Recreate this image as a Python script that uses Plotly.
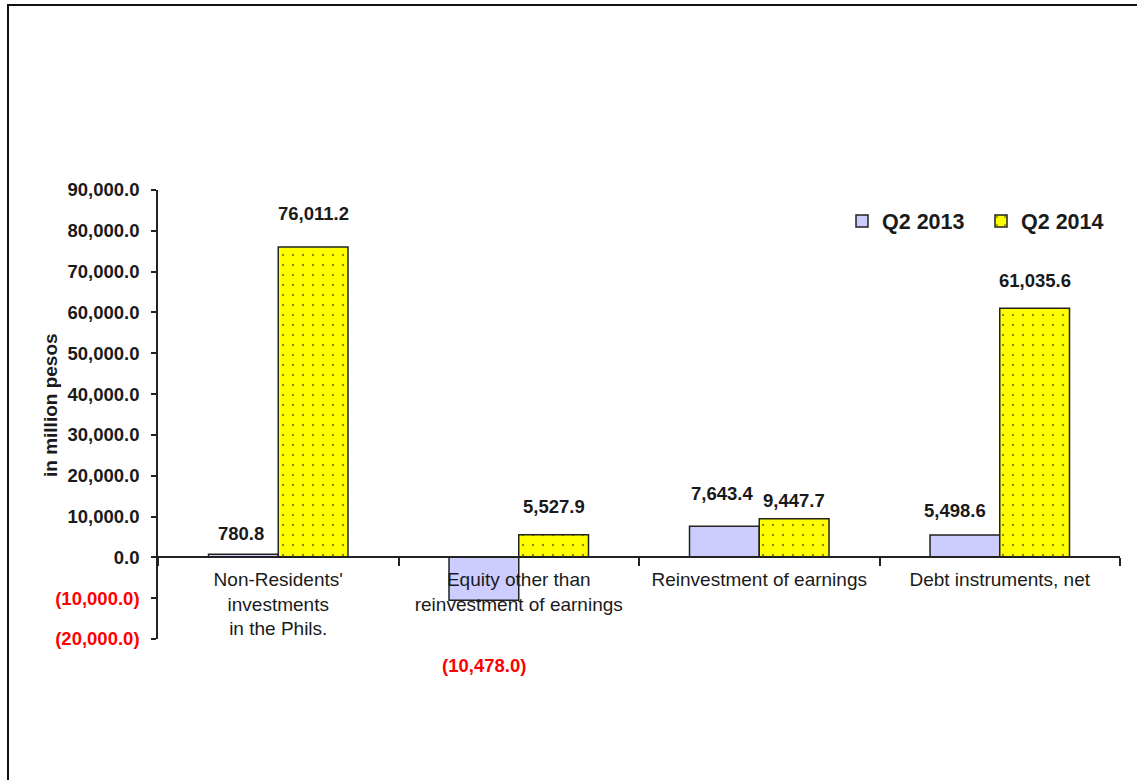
import plotly.graph_objects as go

categories = ["Non-Residents'<br>investments<br>in the Phils.",
              "Equity other than<br>reinvestment of earnings",
              "Reinvestment of earnings",
              "Debt instruments, net"]
q2_2013 = [780.8, -10478.0, 7643.4, 5498.6]
q2_2014 = [76011.2, 5527.9, 9447.7, 61035.6]
series_names = ["Q2 2013", "Q2 2014"]
ytick_vals = [-20000, -10000, 0, 10000, 20000, 30000, 40000, 50000, 60000, 70000, 80000, 90000]
y_title = "in million pesos"

# layout / style settings
W, H = 1137, 780
ML, MR, MT, MB = 158, 17, 190, 141
PW, PH = W - ML - MR, H - MT - MB
Y_MIN, Y_MAX = -20000, 90000
BARGAP = 0.42
FONT = "Liberation Sans, Arial, sans-serif"
TXT = "#1a1a1a"
# label pixel offsets (xshift, yshift) relative to bar end, per series
off_2013 = [(-2, 21), (0, -65), (-2, 33), (-10, 24)]
off_2014 = [(0, 34), (0, 28), (0, 18), (0, 28)]


def fmt(v):
    s = f"{abs(v):,.1f}"
    return f"({s})" if v < 0 else s


def tick_label(v):
    s = fmt(v)
    return f"<span style='color:#ff0000'>{s}</span>" if v < 0 else s


fig = go.Figure()
fig.add_trace(go.Bar(
    name=series_names[0], x=categories, y=q2_2013,
    marker=dict(color="#ccccff", line=dict(color="#222222", width=1.5)),
))
fig.add_trace(go.Bar(
    name=series_names[1], x=categories, y=q2_2014,
    marker=dict(color="#ffff00", line=dict(color="#222222", width=1.5),
                pattern=dict(shape=".", fgcolor="#000000", bgcolor="#ffff00",
                             size=10, solidity=0.04, fillmode="overlay")),
))

half = (1 - BARGAP) / 4
annotations = []
for i in range(len(categories)):
    for vals, offs, sign in ((q2_2013, off_2013, -1), (q2_2014, off_2014, 1)):
        v = vals[i]
        xs, ys = offs[i]
        annotations.append(dict(
            x=i + sign * half, y=v, xref="x", yref="y", text=fmt(v),
            showarrow=False, xshift=xs, yshift=ys,
            font=dict(family=FONT, size=18.5, color="#ff0000" if v < 0 else TXT,
                      weight="bold"),
        ))
annotations.append(dict(
    x=(50 - ML) / PW, y=1 - (405 - MT) / PH, xref="paper", yref="paper",
    text=y_title, textangle=-90, showarrow=False,
    xanchor="center", yanchor="middle",
    font=dict(family=FONT, size=19, color=TXT, weight="bold"),
))

fig.update_layout(
    width=W, height=H,
    margin=dict(l=ML, r=MR, t=MT, b=MB, autoexpand=False),
    paper_bgcolor="white", plot_bgcolor="white",
    barmode="group", bargap=BARGAP, bargroupgap=0,
    font=dict(family=FONT, color=TXT),
    showlegend=True,
    legend=dict(orientation="h", x=(842 - ML) / PW, y=1 - (221 - MT) / PH,
                xanchor="left", yanchor="middle",
                font=dict(family=FONT, size=21.5, color=TXT, weight="bold"),
                entrywidth=94, entrywidthmode="pixels",
                bgcolor="rgba(0,0,0,0)", itemwidth=30),
    annotations=annotations,
    shapes=[dict(type="rect", xref="paper", yref="paper",
                 x0=(8 - ML) / PW, x1=1.2, y0=-0.6, y1=1 + (MT - 5) / PH,
                 line=dict(color="#111111", width=2), fillcolor="rgba(0,0,0,0)",
                 layer="below")],
    xaxis=dict(
        anchor="free", position=(0 - Y_MIN) / (Y_MAX - Y_MIN),
        showline=True, linecolor="#222222", linewidth=1.5,
        ticks="outside", ticklen=8, tickcolor="#222222", tickwidth=1.5,
        tickson="boundaries", showgrid=False, zeroline=False,
        ticklabelstandoff=5,
        tickfont=dict(family=FONT, size=19, color=TXT),
        range=[-0.5, len(categories) - 0.5],
    ),
    yaxis=dict(
        range=[Y_MIN, Y_MAX], tickvals=ytick_vals,
        ticktext=[tick_label(v) for v in ytick_vals],
        showline=True, linecolor="#222222", linewidth=1.5,
        ticks="outside", ticklen=5, tickcolor="#222222", tickwidth=1.5,
        ticklabelstandoff=8,
        showgrid=False, zeroline=False,
        tickfont=dict(family=FONT, size=18.5, color=TXT, weight="bold"),
    ),
)

fig.write_html("out.html", config={"displayModeBar": False},
               post_script="document.body.style.margin='0';")
